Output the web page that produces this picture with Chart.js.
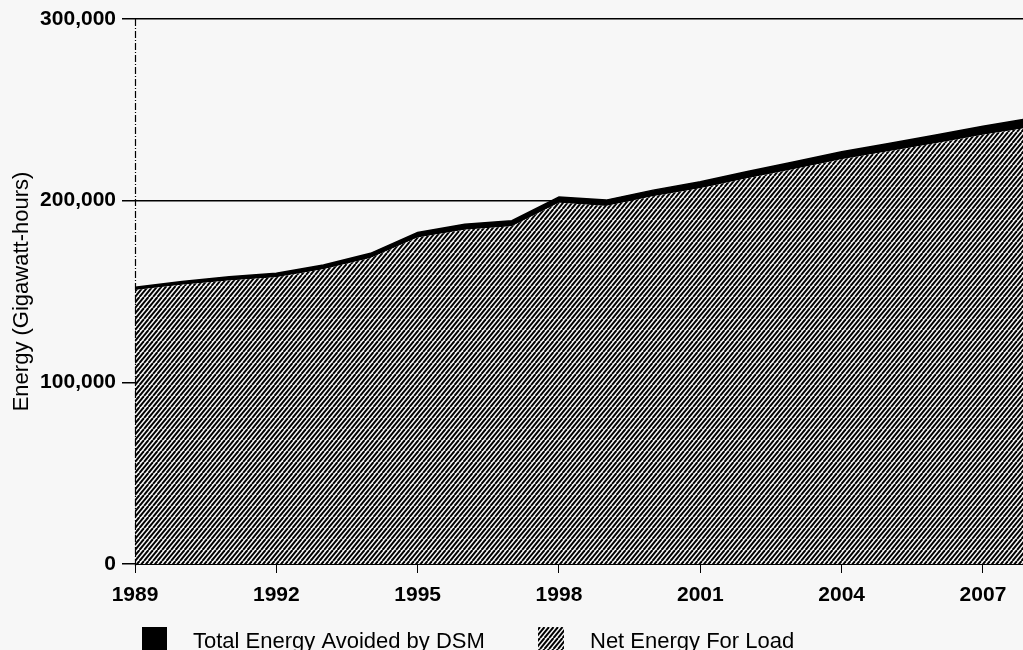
<!DOCTYPE html>
<html>
<head>
<meta charset="utf-8">
<title>Energy (Gigawatt-hours)</title>
<script src="https://cdn.jsdelivr.net/npm/chart.js"></script>
<style>
html,body{margin:0;padding:0;background:#f7f7f7}
#wrap{width:1023px;height:650px;position:relative}
</style>
</head>
<body>
<div id="wrap"><canvas id="chart"></canvas></div>
<script>
// ===== DATA =====
const years=[1989,1990,1991,1992,1993,1994,1995,1996,1997,1998,1999,2000,2001,2002,2003,2004,2005,2006,2007,2008]
const netEnergy=[150800,153700,156100,157800,162200,168400,179700,184000,185900,198800,197000,202400,206900,212300,217500,222800,227200,231600,236300,240400]
const dsmAvoided=[1600,1800,2000,2200,2400,2600,2800,3000,3100,3200,3300,3400,3500,3700,3900,4100,4300,4500,4700,4900]
const xTicks=[1989,1992,1995,1998,2001,2004,2007]
const yTicks=[0,100000,200000,300000]
const seriesNames=["Total Energy Avoided by DSM","Net Energy For Load"]

const FONT='"Liberation Sans", Arial, sans-serif'
const BG='#f7f7f7'

// ===== HATCH =====
function hatch(){
  const c=document.createElement('canvas')
  c.width=9;c.height=11
  const g=c.getContext('2d')
  g.fillStyle=BG;g.fillRect(0,0,9,11)
  g.strokeStyle='#000';g.lineWidth=2
  for(const x0 of [-9,-4.5,0,4.5,9]){
    g.beginPath();g.moveTo(x0,11);g.lineTo(x0+9,0);g.stroke()
  }
  return g.createPattern(c,'repeat')
}
const hatchFill=hatch()

// ===== BACKGROUND, LEFT AXIS, LEGEND =====
const extras={
  id:'extras',
  beforeDraw(chart){
    const ctx=chart.ctx
    ctx.save();ctx.fillStyle=BG;ctx.fillRect(0,0,chart.width,chart.height);ctx.restore()
  },
  afterDatasetsDraw(chart){
    const ctx=chart.ctx,a=chart.chartArea
    ctx.save()
    ctx.strokeStyle='#000';ctx.lineWidth=1.2
    ctx.setLineDash([7,2,1,2])
    ctx.beginPath();ctx.moveTo(a.left+0.5,a.top);ctx.lineTo(a.left+0.5,a.bottom+4);ctx.stroke()
    ctx.restore()
  },
  afterDraw(chart){
    const ctx=chart.ctx
    ctx.save()
    ctx.fillStyle='#000'
    ctx.fillRect(142,627,25,25)
    ctx.fillStyle=hatchFill
    ctx.fillRect(538,627,26,25)
    ctx.fillStyle='#000'
    ctx.font='22px '+FONT
    ctx.textBaseline='alphabetic'
    ctx.fillText(seriesNames[0],193,648)
    ctx.fillText(seriesNames[1],590,648)
    ctx.restore()
  }
}

new Chart(document.getElementById('chart'),{
  type:'line',
  data:{
    datasets:[
      {label:seriesNames[1],data:years.map((y,i)=>({x:y,y:netEnergy[i]})),
       fill:'origin',backgroundColor:hatchFill,borderWidth:0,pointRadius:0,tension:0},
      {label:seriesNames[0],data:years.map((y,i)=>({x:y,y:dsmAvoided[i]})),
       fill:'-1',backgroundColor:'#000',borderColor:'#000',borderWidth:1.5,pointRadius:0,tension:0}
    ]
  },
  options:{
    responsive:true,maintainAspectRatio:false,animation:false,
    layout:{padding:{top:19,left:0,right:0,bottom:0}},
    plugins:{legend:{display:false},tooltip:{enabled:false}},
    scales:{
      x:{
        type:'linear',min:1989,max:2007.85,
        afterBuildTicks(s){s.ticks=xTicks.map(v=>({value:v}))},
        afterFit(s){s.height=86},
        grid:{drawOnChartArea:false,drawTicks:true,tickLength:9,color:'#000',lineWidth:1},
        border:{display:true,color:'#000',width:1},
        ticks:{color:'#000',padding:10,maxRotation:0,autoSkip:false,
          font:{family:FONT,size:21,weight:'bold'},callback:v=>String(v)}
      },
      y:{
        stacked:true,min:0,max:300000,
        afterBuildTicks(s){s.ticks=yTicks.map(v=>({value:v}))},
        afterFit(s){s.width=135},
        grid:{color:'#000',lineWidth:1.5,tickLength:13},
        border:{display:false},
        ticks:{color:'#000',padding:6,font:{family:FONT,size:21,weight:'bold'},
          callback:v=>v.toLocaleString('en-US')},
        title:{display:true,text:'Energy (Gigawatt-hours)',color:'#000',
          font:{family:FONT,size:22},padding:{top:9,bottom:0}}
      }
    }
  },
  plugins:[extras]
})
</script>
</body>
</html>
